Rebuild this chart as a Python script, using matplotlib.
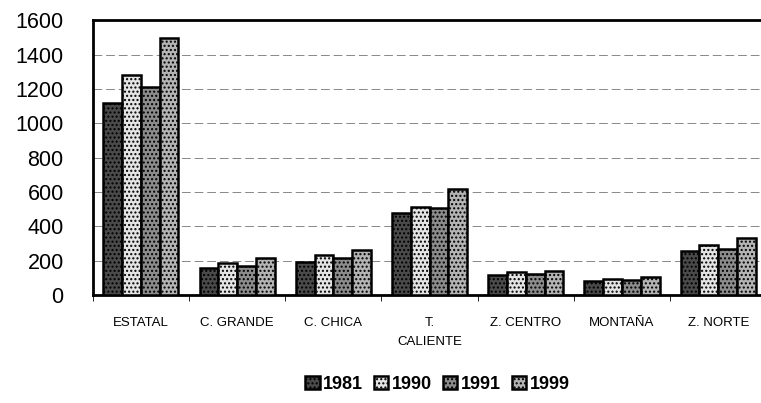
import numpy as np
import matplotlib

matplotlib.use("Agg")

import matplotlib.pyplot as plt

# Datos
regiones = ["ESTATAL", "C. GRANDE", "C. CHICA", "T.\nCALIENTE",
            "Z. CENTRO", "MONTAÑA", "Z. NORTE"]
anios = ["1981", "1990", "1991", "1999"]

v1981 = [1115, 155, 190, 475, 115, 80, 255]
v1990 = [1280, 185, 230, 515, 135, 95, 290]
v1991 = [1210, 170, 215, 505, 120, 85, 270]
v1999 = [1495, 215, 260, 615, 140, 105, 330]

series = [v1981, v1990, v1991, v1999]
colores = ["#4a4a4a", "#e4e4e4", "#8c8c8c", "#b4b4b4"]
tramas = ["....", "....", "....", "...."]

plt.rcParams["font.family"] = ["Liberation Sans", "DejaVu Sans"]
plt.rcParams["hatch.linewidth"] = 1.0

fig = plt.figure(figsize=(7.61, 4.03), dpi=100)
ax = fig.add_axes([0.122, 0.268, 0.885, 0.682])

x = np.arange(len(regiones))
ancho = 0.195

for i, (vals, col, tr) in enumerate(zip(series, colores, tramas)):
    ax.bar(
        x + (i - 1.5) * ancho,
        vals,
        width=ancho,
        color=col,
        edgecolor="black",
        linewidth=1.8,
        hatch=tr,
        label=anios[i],
        zorder=3
    )

ax.set_xlim(-0.5, len(regiones) - 0.5)
ax.set_ylim(0, 1600)
ax.set_yticks(range(0, 1601, 200))
ax.yaxis.grid(True, color="#888888", linestyle=(0, (9, 4)), linewidth=0.7, zorder=0)

ax.set_xticks(x)
ax.set_xticklabels(regiones, fontsize=9.5, va="top", linespacing=1.7)
ax.tick_params(axis="x", length=0, pad=16)
ax.set_xticks(np.arange(-0.5, len(regiones), 1), minor=True)
ax.tick_params(axis="x", which="minor", length=4, direction="out")
ax.tick_params(axis="y", labelsize=15.5, length=0, pad=21)

for lado in ["left", "top", "bottom"]:
    ax.spines[lado].set_linewidth(2)
ax.spines["right"].set_visible(False)

fig.legend(
    loc="lower center",
    bbox_to_anchor=(0.575, -0.015),
    ncol=4,
    frameon=False,
    prop={"size": 13, "weight": "bold"},
    handlelength=0.8,
    handleheight=0.8,
    handletextpad=0.2,
    columnspacing=0.6
)

plt.savefig("out.png", dpi=100)
plt.close()
